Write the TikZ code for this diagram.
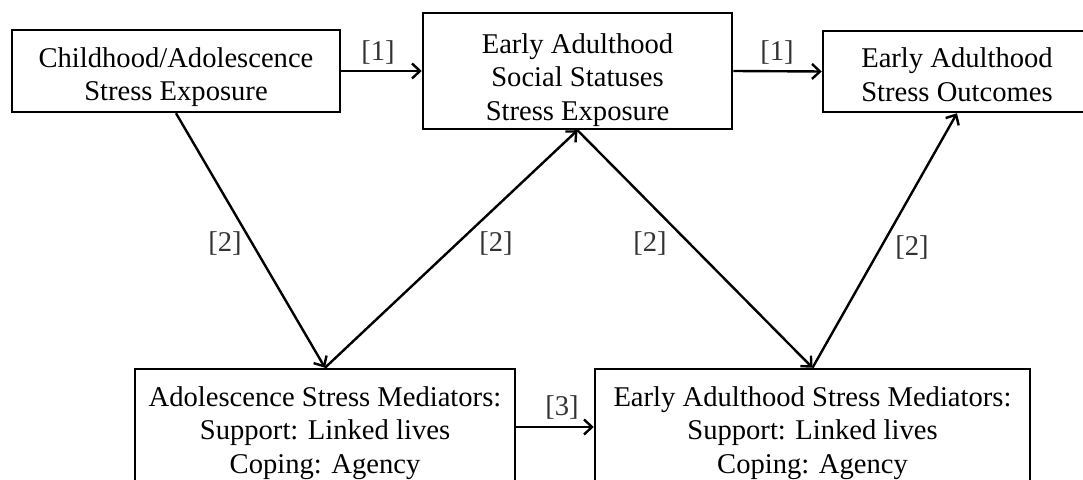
\documentclass[tikz,border=0pt]{standalone}
\usepackage{fontspec}
\setmainfont{Liberation Serif}
\usetikzlibrary{arrows.meta}
\begin{document}
\begin{tikzpicture}[x=0.5pt,y=-0.5pt,
  box/.style={draw=black,line width=1.25pt,fill=white,inner sep=0pt},
  txt/.style={align=center,inner sep=0pt,font=\fontsize{14.3}{16.8}\selectfont},
  lbl/.style={font=\fontsize{14.3}{17}\selectfont,text=black!80,inner sep=0pt},
  arr/.style={line width=1.2pt,-{Straight Barb[length=4pt,width=7.5pt,line width=1.2pt]}}]
\useasboundingbox (0,0) rectangle (1083,480);
\clip (0,0) rectangle (1083,480);
\node[box,minimum width=164pt,minimum height=41pt] (b1) at (176,71) {};
\node[txt] (t1) at ([yshift=-3pt]b1.center) {Childhood/Adolescence\\Stress Exposure};
\node[box,minimum width=154.5pt,minimum height=58pt] (b2) at (577.5,71) {};
\node[txt] (t2) at ([yshift=-4.5pt]b2.center) {Early Adulthood\\Social Statuses\\Stress Exposure};
\node[box,minimum width=134pt,minimum height=40.5pt] (b3) at (957,71.5) {};
\node[txt] (t3) at ([yshift=-1.5pt]b3.center) {Early Adulthood\\Stress Outcomes};
\node[box,minimum width=190pt,minimum height=58pt] (b4) at (325,427) {};
\node[txt] (t4) at ([yshift=-3pt]b4.center) {Adolescence Stress Mediators:\\Support: Linked lives\\Coping: Agency};
\node[box,minimum width=217.5pt,minimum height=58pt] (b5) at (812.5,427) {};
\node[txt] (t5) at ([yshift=-3pt]b5.center) {Early Adulthood Stress Mediators:\\Support: Linked lives\\Coping: Agency};
\draw[arr] (b1.east) -- (b2.west);
\draw[arr] (b2.east) -- (b3.west);
\draw[arr] (b1.south) -- (b4.north);
\draw[arr] (b4.north) -- (b2.south);
\draw[arr] (b2.south) -- (b5.north);
\draw[arr] (b5.north) -- (b3.south);
\draw[arr] (b4.east) -- (b5.west);
\node[lbl] (l1) at (378,52) {[1]};
\node[lbl] (l2) at (777,52) {[1]};
\node[lbl] (l3) at (225,243) {[2]};
\node[lbl] (l4) at (496,243) {[2]};
\node[lbl] (l5) at (650,243) {[2]};
\node[lbl] (l6) at (912,247) {[2]};
\node[lbl] (l7) at (562,407) {[3]};
\end{tikzpicture}
\end{document}
